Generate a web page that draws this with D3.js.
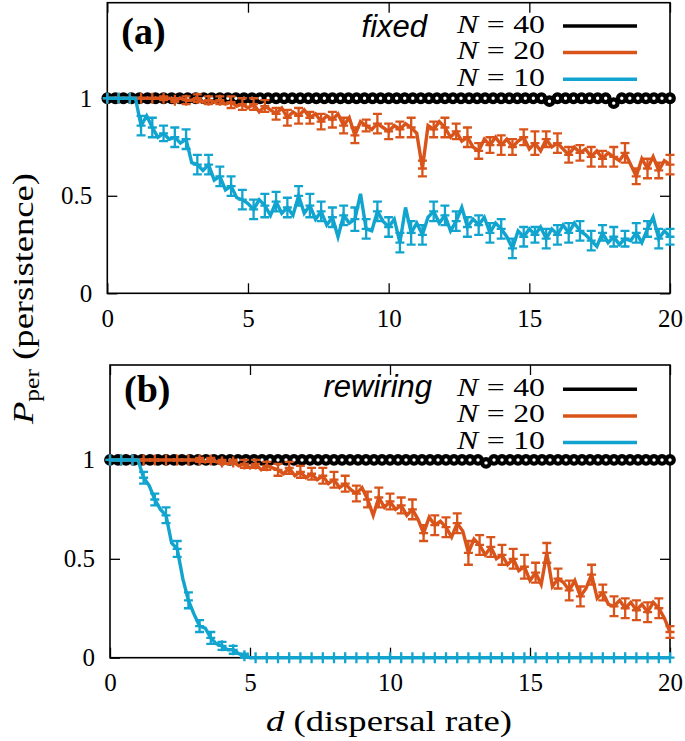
<!DOCTYPE html>
<html>
<head>
<meta charset="utf-8">
<script src="https://cdn.jsdelivr.net/npm/d3@7"></script>
<style>
body { margin: 0; background: #fff; }
</style>
</head>
<body>
<svg id="chart" width="685" height="741"></svg>
<script>
// sampling grid of dispersal rate d (0..20)
var dGrid = d3.range(101).map(function(i){ return i * 0.2; });
var d40 = d3.range(71).map(function(i){ return i * 20 / 70; });

var xTicks = [0, 5, 10, 15, 20];
var xTickLabels = ["0", "5", "10", "15", "20"];
var yTicks = [0, 0.5, 1];
var yTickLabels = ["0", "0.5", "1"];

var legendNames = ["40", "20", "10"];

// (a) fixed network
var fixed40 = [
  1,1,1,1,1,1,1,1,1,1, 1,1,1,1,1,1,1,1,1,1, 1,1,1,1,1,1,1,1,1,1,
  1,1,1,1,1,1,1,1,1,1, 1,1,1,1,1,1,1,1,1,1,
  1,1,1,1,1,0.985,1,1,1,1, 1,1,1,0.975,1,1,1,1,1,1, 1];
var fixed20 = [
  1,1,1,1,1,1,1,1,1,1,
  1,1,0.99,1,0.99,0.99,1,0.98,0.99,0.98,
  0.99,0.97,0.98,0.96,0.97,0.95,0.97,0.93,0.96,0.94,
  0.92,0.95,0.90,0.93,0.91,0.94,0.90,0.92,0.88,0.91,
  0.89,0.92,0.86,0.90,0.81,0.88,0.86,0.84,0.87,0.85,
  0.83,0.86,0.84,0.87,0.85,0.82,0.64,0.86,0.84,0.88,
  0.85,0.80,0.83,0.78,0.80,0.75,0.73,0.79,0.76,0.80,
  0.76,0.79,0.75,0.78,0.80,0.74,0.77,0.73,0.79,0.75,
  0.77,0.74,0.71,0.75,0.72,0.74,0.70,0.73,0.69,0.72,
  0.70,0.68,0.72,0.66,0.60,0.69,0.64,0.70,0.63,0.68,
  0.66];
var fixed10 = [
  1,1,1,1,1,1,0.86,0.91,0.85,0.80,
  0.82,0.79,0.80,0.77,0.79,0.67,0.66,0.63,0.66,0.58,
  0.60,0.53,0.55,0.49,0.48,0.46,0.43,0.48,0.45,0.40,
  0.47,0.41,0.44,0.40,0.50,0.41,0.45,0.38,0.42,0.35,
  0.39,0.29,0.40,0.36,0.38,0.51,0.33,0.32,0.42,0.37,
  0.34,0.38,0.26,0.44,0.31,0.36,0.30,0.39,0.42,0.36,
  0.40,0.32,0.37,0.44,0.34,0.38,0.35,0.39,0.31,0.36,
  0.33,0.29,0.23,0.32,0.29,0.33,0.30,0.34,0.28,0.33,
  0.30,0.35,0.31,0.36,0.32,0.30,0.27,0.24,0.31,0.26,
  0.29,0.25,0.28,0.27,0.31,0.26,0.33,0.39,0.28,0.32,
  0.29];
// error bars, every second grid point (d = 0, 0.4, ..., 20)
var fixed20Err = [
  0,0,0,0,0,0.01,0.01,0.02,0.02,0.02,
  0.02,0.03,0.03,0.03,0.03,0.03,0.04,0.04,0.03,0.04,
  0.04,0.04,0.04,0.03,0.05,0.04,0.04,0.05,0.04,0.04,
  0.05,0.04,0.05,0.04,0.04,0.05,0.04,0.04,0.06,0.04,
  0.05,0.04,0.04,0.05,0.04,0.05,0.05,0.04,0.05,0.04,
  0.05];
var fixed10Err = [
  0,0,0,0.05,0.05,0.04,0.05,0.05,0.05,0.05,
  0.05,0.05,0.05,0.05,0.06,0.05,0.05,0.05,0.06,0.05,
  0.05,0.05,0.06,0.05,0.05,0.05,0.05,0.06,0.05,0.05,
  0.05,0.05,0.05,0.05,0.05,0.05,0.05,0.05,0.04,0.05,
  0.05,0.05,0.05,0.05,0.04,0.05,0.04,0.05,0.04,0.05,
  0.04];

// (b) rewiring network
var rewire40 = [
  1,1,1,1,1,1,1,1,1,1, 1,1,1,1,1,1,1,1,1,1, 1,1,1,1,1,1,1,1,1,1,
  1,1,1,1,1,1,1,1,1,1, 1,1,1,1,1,1,1,0.985,1,1,
  1,1,1,1,1,1,1,1,1,1, 1,1,1,1,1,1,1,1,1,1, 1];
var rewire20 = [
  1,1,1,1,1,1,1,1,1,1,
  1,1,1,1,1,1,1,0.99,1,0.99,
  0.99,0.98,0.99,0.97,0.98,0.96,0.98,0.95,0.97,0.96,
  0.95,0.93,0.96,0.92,0.94,0.91,0.93,0.90,0.92,0.88,
  0.90,0.86,0.88,0.85,0.83,0.86,0.80,0.72,0.81,0.76,
  0.79,0.75,0.77,0.72,0.75,0.70,0.63,0.71,0.67,0.69,
  0.66,0.61,0.68,0.64,0.53,0.60,0.57,0.52,0.56,0.50,
  0.52,0.47,0.50,0.44,0.46,0.39,0.43,0.37,0.53,0.36,
  0.40,0.38,0.34,0.39,0.31,0.35,0.42,0.30,0.33,0.27,
  0.26,0.29,0.25,0.28,0.24,0.27,0.23,0.28,0.25,0.20,
  0.13];
var rewire10 = [
  1,1,1,1,1,1,0.91,0.87,0.80,0.75,
  0.72,0.58,0.55,0.40,0.29,0.22,0.16,0.15,0.10,0.07,
  0.06,0.04,0.04,0.02,0.01,0,0,0,0,0,
  0,0,0,0,0,0,0,0,0,0, 0,0,0,0,0,0,0,0,0,0,
  0,0,0,0,0,0,0,0,0,0, 0,0,0,0,0,0,0,0,0,0,
  0,0,0,0,0,0,0,0,0,0, 0,0,0,0,0,0,0,0,0,0,
  0,0,0,0,0,0,0,0,0,0, 0];
var rewire20Err = [
  0,0,0,0,0,0,0,0,0.01,0.01,
  0.01,0.01,0.02,0.02,0.02,0.03,0.03,0.03,0.03,0.04,
  0.04,0.04,0.04,0.04,0.05,0.04,0.04,0.05,0.04,0.05,
  0.05,0.05,0.06,0.05,0.05,0.05,0.05,0.06,0.05,0.05,
  0.05,0.05,0.05,0.05,0.04,0.05,0.05,0.05,0.05,0.05,
  0.03];
var rewire10Err = [
  0,0,0,0.03,0.03,0.04,0.04,0.04,0.03,0.03,
  0.02,0.02,0.01,0,0,0,0,0,0,0,
  0,0,0,0,0,0,0,0,0,0,
  0,0,0,0,0,0,0,0,0,0,
  0,0,0,0,0,0,0,0,0,0,
  0];

var colorscale = d3.scaleOrdinal().domain(["40", "20", "10"]).range(["#000000", "#d9541a", "#10a4cf"]);
var SERIF = "'Liberation Serif'";

var svg = d3.select("#chart");

function drawPanel(p) {
  var x = d3.scaleLinear().domain([0, 20]).range([p.left, p.right]);
  var y = d3.scaleLinear().domain([0, p.ymax]).range([p.bottom, p.top]);
  var g = svg.append("g");

  // axes with inward ticks, mirrored on top and right
  g.append("g")
    .attr("transform", "translate(0," + p.bottom + ")")
    .call(d3.axisBottom(x).tickValues(xTicks).tickSize(-10).tickPadding(16)
      .tickFormat(function(d, i){ return xTickLabels[i]; }));
  g.append("g")
    .attr("transform", "translate(0," + p.top + ")")
    .call(d3.axisTop(x).tickValues(xTicks).tickSize(-10).tickFormat(""));
  g.append("g")
    .attr("transform", "translate(" + p.left + ",0)")
    .call(d3.axisLeft(y).tickValues(yTicks).tickSize(-10).tickPadding(15)
      .tickFormat(function(d, i){ return yTickLabels[i]; }));
  g.append("g")
    .attr("transform", "translate(" + p.right + ",0)")
    .call(d3.axisRight(y).tickValues(yTicks).tickSize(-10).tickFormat(""));
  g.selectAll(".domain").remove();
  g.selectAll(".tick line").attr("stroke", "#000").attr("stroke-width", 1.3);
  g.selectAll(".tick text").attr("font-family", "Liberation Serif")
    .style("font-family", SERIF).style("font-size", "25px").style("fill", "#000");

  g.append("rect")
    .attr("x", p.left).attr("y", p.top)
    .attr("width", p.right - p.left).attr("height", p.bottom - p.top)
    .attr("fill", "none").attr("stroke", "#000").attr("stroke-width", 1.6);

  var line = d3.line()
    .x(function(d){ return x(d[0]); })
    .y(function(d){ return y(d[1]); });

  // N = 40 : line with open circles
  var s40 = d40.map(function(d, i){ return [d, p.v40[i]]; });
  g.append("path").datum(s40).attr("d", line)
    .attr("fill", "none").attr("stroke", colorscale("40")).attr("stroke-width", 3);
  g.selectAll("circle.n40").data(s40).enter().append("circle")
    .attr("class", "n40")
    .attr("cx", function(d){ return x(d[0]); })
    .attr("cy", function(d){ return y(d[1]); })
    .attr("r", 3.8)
    .attr("fill", "#fff")
    .attr("stroke", "#000")
    .attr("stroke-width", 4.2);

  // N = 20 and N = 10 : line, error bars, plus markers
  [["20", p.v20, p.e20], ["10", p.v10, p.e10]].forEach(function(s) {
    var col = colorscale(s[0]);
    var pts = dGrid.map(function(d, i){ return [d, s[1][i]]; });
    g.append("path").datum(pts).attr("d", line)
      .attr("fill", "none").attr("stroke", col).attr("stroke-width", 3.4)
      .attr("stroke-linejoin", "miter");
    var marks = s[2].map(function(e, j){ return {d: dGrid[j * 2], v: s[1][j * 2], e: e}; });
    var mg = g.append("g").attr("stroke", col).attr("stroke-width", 2.3).attr("fill", "none");
    mg.selectAll("path.bar").data(marks).enter().append("path")
      .attr("d", function(m) {
        var cx = x(m.d), y0 = y(m.v - m.e), y1 = y(m.v + m.e);
        var s = "M" + cx + "," + (y(m.v) - 5.5) + "V" + (y(m.v) + 5.5) +
                "M" + (cx - 4.5) + "," + y(m.v) + "H" + (cx + 4.5);
        if (m.e > 0) {
          s += "M" + cx + "," + y0 + "V" + y1 +
               "M" + (cx - 4.5) + "," + y0 + "H" + (cx + 4.5) +
               "M" + (cx - 4.5) + "," + y1 + "H" + (cx + 4.5);
        }
        return s;
      });
  });

  // panel label and network type
  g.append("text").attr("x", p.left + 14).attr("y", p.top + p.labelDy)
    .style("font-family", SERIF).style("font-size", "38px").style("font-weight", "bold")
    .text(p.label);
  g.append("text").attr("x", p.typeX).attr("y", p.top + p.typeDy)
    .attr("text-anchor", "end")
    .style("font-family", "'Liberation Sans'")
    .style("font-style", "italic").style("font-size", "31px").text(p.type);

  // legend
  var legend = g.append("g").attr("class", "legend");
  legendNames.forEach(function(n, i) {
    var ly = p.top + p.legDy + i * 26.6;
    var t = legend.append("text").attr("x", 545).attr("y", ly + 6.5)
      .attr("text-anchor", "end")
      .attr("textLength", 88).attr("lengthAdjust", "spacingAndGlyphs")
      .style("font-family", SERIF).style("font-size", "26px");
    t.append("tspan").style("font-style", "italic").text("N");
    t.append("tspan").attr("dx", 7).text("=");
    t.append("tspan").attr("dx", 7).text(n);
    legend.append("line")
      .attr("x1", 563).attr("x2", 637).attr("y1", ly).attr("y2", ly)
      .attr("stroke", colorscale(n)).attr("stroke-width", 3.5);
  });
}

drawPanel({
  left: 107.3, right: 670, top: 2.7, bottom: 293.3, ymax: 1.49,
  v40: fixed40, v20: fixed20, v10: fixed10, e20: fixed20Err, e10: fixed10Err,
  label: "(a)", labelDy: 41, type: "fixed", typeX: 427, typeDy: 34, legDy: 23.3
});
drawPanel({
  left: 110, right: 670, top: 365, bottom: 657.7, ymax: 1.48,
  v40: rewire40, v20: rewire20, v10: rewire10, e20: rewire20Err, e10: rewire10Err,
  label: "(b)", labelDy: 37, type: "rewiring", typeX: 432, typeDy: 32, legDy: 24.3
});

// axis titles
var xt = svg.append("text").attr("x", 389).attr("y", 731)
  .attr("text-anchor", "middle")
  .attr("textLength", 246).attr("lengthAdjust", "spacingAndGlyphs")
  .style("font-family", SERIF).style("font-size", "30px");
xt.append("tspan").style("font-style", "italic").text("d");
xt.append("tspan").text(" (dispersal rate)");

var yt = svg.append("text")
  .attr("transform", "translate(33,424) rotate(-90)")
  .attr("textLength", 251).attr("lengthAdjust", "spacingAndGlyphs")
  .style("font-family", SERIF).style("font-size", "30px");
yt.append("tspan").style("font-style", "italic").text("P");
yt.append("tspan").style("font-size", "21px").attr("dy", 6).text("per");
yt.append("tspan").attr("dy", -6).text(" (persistence)");
</script>
</body>
</html>
